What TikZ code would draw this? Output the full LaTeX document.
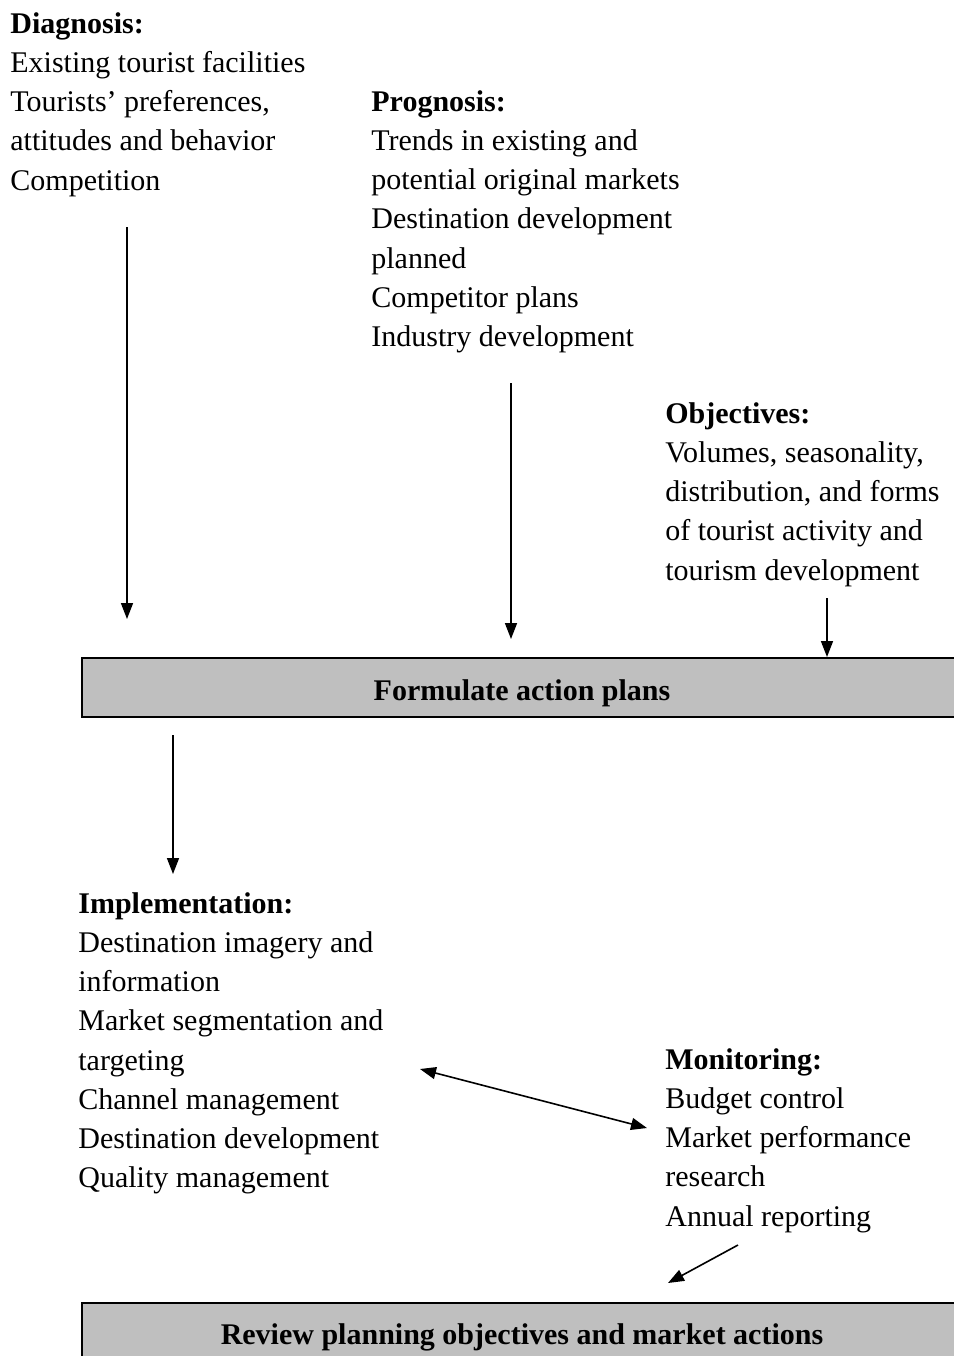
\documentclass[tikz,border=0pt]{standalone}
\usepackage{fontspec}
\setmainfont{Liberation Serif}
\usetikzlibrary{arrows.meta}
\begin{document}
\begin{tikzpicture}[x=0.5pt,y=-0.5pt,
  txt/.style={anchor=north west,inner sep=0pt,align=left,font=\fontsize{15pt}{19.6pt}\selectfont},
  bigbox/.style={draw=black,line width=1pt,fill=gray!50!white,minimum width=440pt,inner sep=0pt,font=\fontsize{15pt}{19.6pt}\selectfont\bfseries},
  arr/.style={line width=0.8pt,-{Triangle[length=8pt,width=6pt]}},
  darr/.style={line width=0.8pt,{Triangle[length=8pt,width=6pt]}-{Triangle[length=8pt,width=6pt]}}]
\useasboundingbox (0,0) rectangle (954,1356);
\fill[white] (0,0) rectangle (954,1356);

\node[txt] (diag) at (10,12) {\textbf{Diagnosis:}\\Existing tourist facilities\\Tourists’ preferences,\\attitudes and behavior\\Competition};
\node[txt] (prog) at (371,90) {\textbf{Prognosis:}\\Trends in existing and\\potential original markets\\Destination development\\planned\\Competitor plans\\Industry development};
\node[txt] (obj) at (665,402) {\textbf{Objectives:}\\Volumes, seasonality,\\distribution, and forms\\of tourist activity and\\tourism development};
\node[bigbox,minimum height=29.5pt,text height=14pt,text depth=1.1pt] (form) at (522,687.5) {Formulate action plans};
\node[txt] (impl) at (78,892) {\textbf{Implementation:}\\Destination imagery and\\information\\Market segmentation and\\targeting\\Channel management\\Destination development\\Quality management};
\node[txt] (mon) at (665,1048) {\textbf{Monitoring:}\\Budget control\\Market performance\\research\\Annual reporting};
\node[bigbox,minimum height=32pt,text height=12pt,text depth=2.1pt] (rev) at (522,1335) {Review planning objectives and market actions};

\coordinate (a1s) at (127,227); \coordinate (a1e) at (127,619);
\coordinate (a2s) at (511,383); \coordinate (a2e) at (511,639);
\coordinate (a3s) at (827,598);
\coordinate (a4s) at (173,735); \coordinate (a4e) at (173,874);
\coordinate (a5s) at (420,1069); \coordinate (a5e) at (647,1128);
\coordinate (a6s) at (738,1245); \coordinate (a6e) at (668,1283);

\draw[arr] (a1s) -- (a1e);
\draw[arr] (a2s) -- (a2e);
\draw[arr] (a3s) -- (a3s |- form.north);
\draw[arr] (a4s) -- (a4e);
\draw[darr] (a5s) -- (a5e);
\draw[arr] (a6s) -- (a6e);
\end{tikzpicture}
\end{document}
